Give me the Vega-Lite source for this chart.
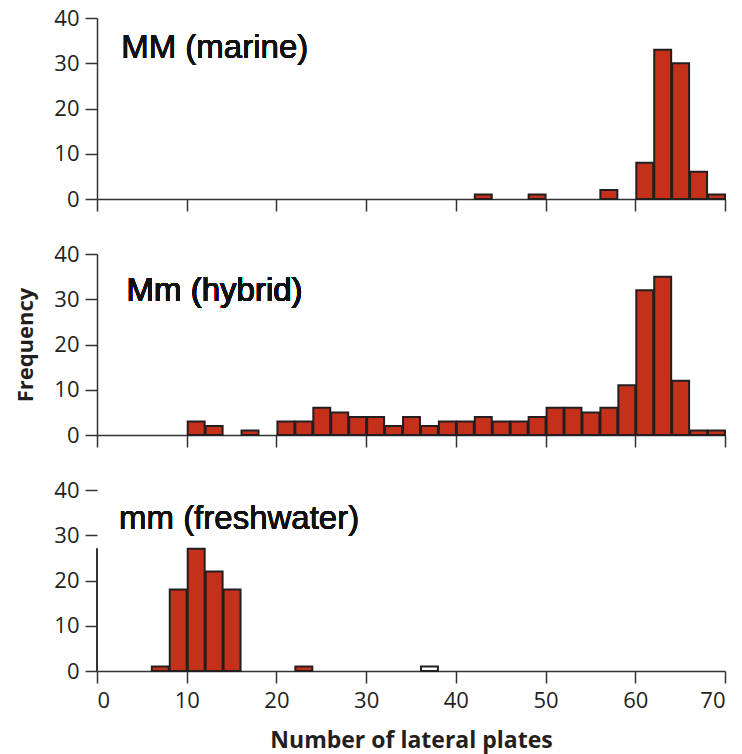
{
  "$schema": "https://vega.github.io/schema/vega-lite/v6.json",
  "background": "white",
  "padding": {"left": 14, "top": 7, "right": 10, "bottom": 2},
  "spacing": 31,
  "datasets": {
    "MM": [
      {"start": 42, "end": 44, "count": 1},
      {"start": 48, "end": 50, "count": 1},
      {"start": 56, "end": 58, "count": 2},
      {"start": 60, "end": 62, "count": 8},
      {"start": 62, "end": 64, "count": 33},
      {"start": 64, "end": 66, "count": 30},
      {"start": 66, "end": 68, "count": 6},
      {"start": 68, "end": 70, "count": 1}
    ],
    "Mm": [
      {"start": 10, "end": 12, "count": 3},
      {"start": 12, "end": 14, "count": 2},
      {"start": 16, "end": 18, "count": 1},
      {"start": 20, "end": 22, "count": 3},
      {"start": 22, "end": 24, "count": 3},
      {"start": 24, "end": 26, "count": 6},
      {"start": 26, "end": 28, "count": 5},
      {"start": 28, "end": 30, "count": 4},
      {"start": 30, "end": 32, "count": 4},
      {"start": 32, "end": 34, "count": 2},
      {"start": 34, "end": 36, "count": 4},
      {"start": 36, "end": 38, "count": 2},
      {"start": 38, "end": 40, "count": 3},
      {"start": 40, "end": 42, "count": 3},
      {"start": 42, "end": 44, "count": 4},
      {"start": 44, "end": 46, "count": 3},
      {"start": 46, "end": 48, "count": 3},
      {"start": 48, "end": 50, "count": 4},
      {"start": 50, "end": 52, "count": 6},
      {"start": 52, "end": 54, "count": 6},
      {"start": 54, "end": 56, "count": 5},
      {"start": 56, "end": 58, "count": 6},
      {"start": 58, "end": 60, "count": 11},
      {"start": 60, "end": 62, "count": 32},
      {"start": 62, "end": 64, "count": 35},
      {"start": 64, "end": 66, "count": 12},
      {"start": 66, "end": 68, "count": 1},
      {"start": 68, "end": 70, "count": 1}
    ],
    "mm": [
      {"start": 6, "end": 8, "count": 1},
      {"start": 8, "end": 10, "count": 18},
      {"start": 10, "end": 12, "count": 27},
      {"start": 12, "end": 14, "count": 22},
      {"start": 14, "end": 16, "count": 18},
      {"start": 22, "end": 24, "count": 1},
      {"start": 36, "end": 38, "count": 1}
    ]
  },
  "config": {
    "view": {"stroke": null},
    "axis": {
      "grid": false,
      "domainColor": "#333333",
      "domainWidth": 1.5,
      "tickColor": "#333333",
      "tickWidth": 1.5,
      "tickSize": 12,
      "labelFont": "Open Sans",
      "labelFontSize": 22,
      "labelColor": "#231f20",
      "titleFont": "Open Sans",
      "titleFontWeight": "bold",
      "titleFontSize": 22,
      "titleColor": "#231f20"
    }
  },
  "vconcat": [
    {
      "width": 628,
      "height": 181,
      "data": {"name": "MM"},
      "layer": [
        {
          "mark": {"type": "bar", "fill": "#c4301a", "stroke": "#231f20", "strokeWidth": 2},
          "encoding": {
            "x": {"field": "start", "type": "quantitative", "bin": "binned", "scale": {"domain": [0, 70], "nice": false},
                  "axis": {"values": [0, 10, 20, 30, 40, 50, 60, 70], "labels": false, "title": null}},
            "x2": {"field": "end"},
            "y": {"field": "count", "type": "quantitative", "scale": {"domain": [0, 40]},
                  "axis": {"values": [0, 10, 20, 30, 40], "title": null, "tickSize": 12, "labelPadding": 6}}
          }
        },
        {
          "mark": {"type": "text", "font": "Liberation Sans", "fontSize": 33, "align": "left", "baseline": "middle", "color": "#111111"},
          "encoding": {
            "x": {"datum": 2.7, "type": "quantitative"},
            "y": {"datum": 33.4, "type": "quantitative"},
            "text": {"value": "MM (marine)"}
          }
        }
      ]
    },
    {
      "width": 628,
      "height": 181,
      "data": {"name": "Mm"},
      "layer": [
        {
          "mark": {"type": "bar", "fill": "#c4301a", "stroke": "#231f20", "strokeWidth": 2},
          "encoding": {
            "x": {"field": "start", "type": "quantitative", "bin": "binned", "scale": {"domain": [0, 70], "nice": false},
                  "axis": {"values": [0, 10, 20, 30, 40, 50, 60, 70], "labels": false, "title": null}},
            "x2": {"field": "end"},
            "y": {"field": "count", "type": "quantitative", "scale": {"domain": [0, 40]},
                  "axis": {"values": [0, 10, 20, 30, 40], "title": "Frequency", "tickSize": 12, "labelPadding": 6, "titlePadding": 16}}
          }
        },
        {
          "mark": {"type": "text", "font": "Liberation Sans", "fontSize": 33, "align": "left", "baseline": "middle", "color": "#111111"},
          "encoding": {
            "x": {"datum": 3.3, "type": "quantitative"},
            "y": {"datum": 31.8, "type": "quantitative"},
            "text": {"value": "Mm (hybrid)"}
          }
        }
      ]
    },
    {
      "width": 628,
      "height": 181,
      "data": {"name": "mm"},
      "layer": [
        {
          "mark": {"type": "bar", "stroke": "#231f20", "strokeWidth": 2},
          "encoding": {
            "x": {"field": "start", "type": "quantitative", "bin": "binned", "scale": {"domain": [0, 70], "nice": false},
                  "axis": {"values": [0, 10, 20, 30, 40, 50, 60, 70], "title": "Number of lateral plates", "labelPadding": 7, "titlePadding": 18, "titleFontSize": 23}},
            "x2": {"field": "end"},
            "y": {"field": "count", "type": "quantitative", "scale": {"domain": [0, 40]},
                  "axis": {"values": [0, 10, 20, 30, 40], "title": null, "domain": false, "tickSize": 12, "labelPadding": 6}},
            "fill": {"condition": {"test": "datum.start == 36", "value": "#ffffff"}, "value": "#c4301a"}
          }
        },
        {
          "mark": {"type": "rule", "color": "#333333", "strokeWidth": 1.5},
          "encoding": {
            "x": {"datum": 0, "type": "quantitative"},
            "y": {"datum": 0, "type": "quantitative"},
            "y2": {"datum": 27}
          }
        },
        {
          "mark": {"type": "text", "font": "Liberation Sans", "fontSize": 33, "align": "left", "baseline": "middle", "color": "#111111"},
          "encoding": {
            "x": {"datum": 2.45, "type": "quantitative"},
            "y": {"datum": 33.6, "type": "quantitative"},
            "text": {"value": "mm (freshwater)"}
          }
        }
      ]
    }
  ]
}
